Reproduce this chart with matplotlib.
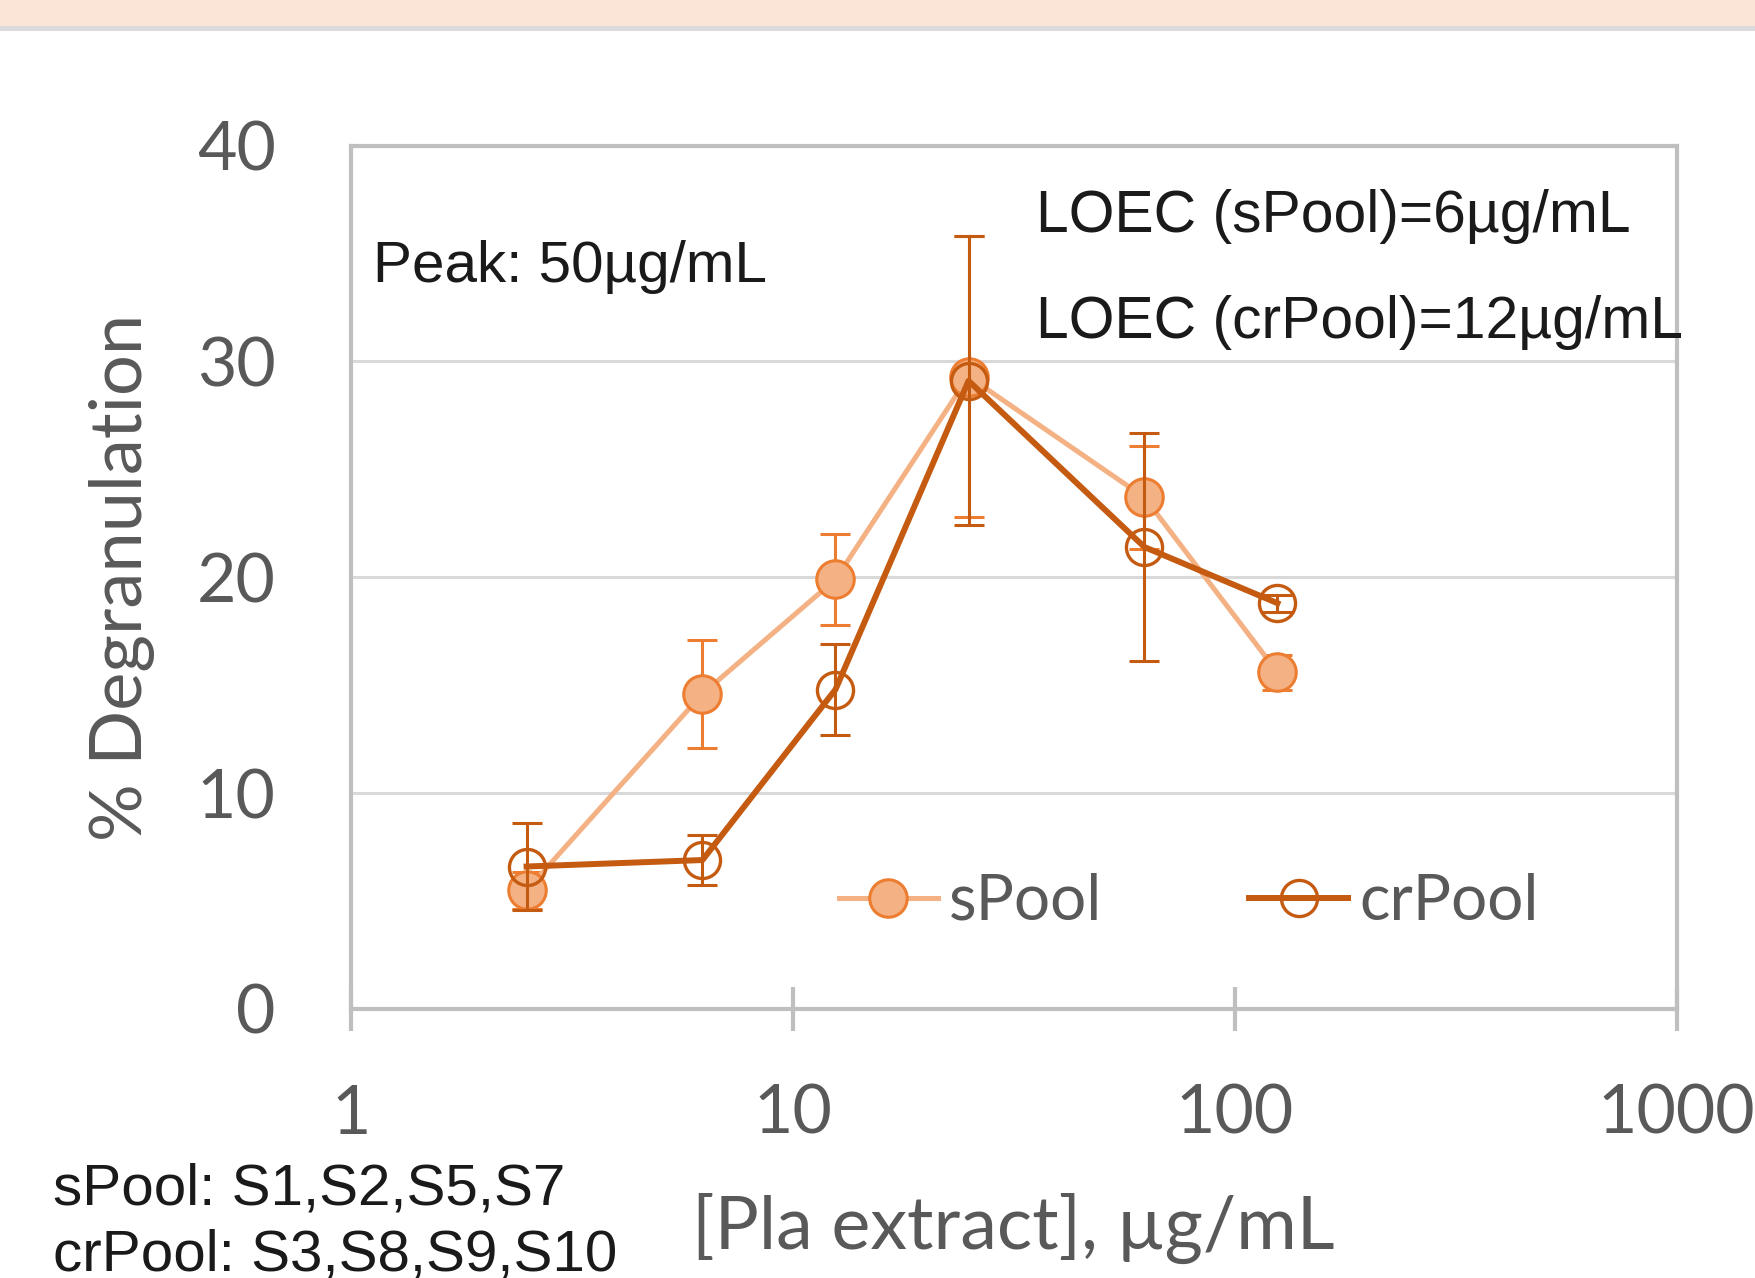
import numpy as np
import matplotlib.pyplot as plt
from matplotlib.lines import Line2D

conc = [2.5, 6.25, 12.5, 25, 62.5, 125]
spool = [5.5, 14.6, 19.9, 29.3, 23.7, 15.6]
spool_err = [0.85, 2.5, 2.1, 6.5, 2.4, 0.8]
crpool = [6.6, 6.9, 14.8, 29.1, 21.4, 18.8]
crpool_err = [2.0, 1.15, 2.1, 6.7, 5.3, 0.4]

light = "#F4B183"
mid = "#ED7D31"
dark = "#C55A11"
gray_txt = "#595959"

fig = plt.figure(figsize=(17.56, 12.78), dpi=100)

# peach band at the top
fig.patches.append(plt.Rectangle((0, 1 - 26 / 1278), 1, 26 / 1278, transform=fig.transFigure,
                                 facecolor="#FBE5D6", edgecolor="none", zorder=0))
fig.patches.append(plt.Rectangle((0, 1 - 31 / 1278), 1, 5 / 1278, transform=fig.transFigure,
                                 facecolor="#DADADA", edgecolor="none", zorder=0))

ax = fig.add_axes([0.1997, 0.2105, 0.7551, 0.6756])
ax.set_xscale("log")
ax.set_xlim(1, 1000)
ax.set_ylim(0, 40)
ax.set_yticks([0, 10, 20, 30, 40])
ax.yaxis.grid(True, color="#D9D9D9", linewidth=2.2)
ax.set_axisbelow(True)

for s in ax.spines.values():
    s.set_color("#BFBFBF")
    s.set_linewidth(3)

ax.tick_params(axis="y", length=0, pad=54, labelsize=49, labelcolor=gray_txt)
ax.tick_params(axis="x", which="major", direction="inout", length=32, width=3,
               color="#BFBFBF", pad=38, labelsize=49, labelcolor=gray_txt)
ax.tick_params(axis="x", which="minor", length=0)
ax.set_xticks([1, 10, 100, 1000])
ax.set_xticklabels(["1", "10", "100", "1000"])
for lab in ax.get_xticklabels() + ax.get_yticklabels():
    lab.set_family("Lato")

# sPool
ax.errorbar(conc, spool, yerr=spool_err, fmt="none", ecolor=mid, elinewidth=2.2,
            capsize=11, capthick=2.2, zorder=3)
ax.plot(conc, spool, color=light, linewidth=3.6, marker="o", markersize=27,
        markerfacecolor=light, markeredgecolor=mid, markeredgewidth=2.2, zorder=4)

# crPool
ax.errorbar(conc, crpool, yerr=crpool_err, fmt="none", ecolor=dark, elinewidth=2.2,
            capsize=11, capthick=2.2, zorder=5)
ax.plot(conc, crpool, color=dark, linewidth=4.3, marker="o", markersize=26,
        markerfacecolor="none", markeredgecolor=dark, markeredgewidth=2.4, zorder=6)

handles = [
    Line2D([], [], color=light, linewidth=3.6, marker="o", markersize=27,
           markerfacecolor=light, markeredgecolor=mid, markeredgewidth=2.2),
    Line2D([], [], color=dark, linewidth=4.3, marker="o", markersize=26,
           markerfacecolor="none", markeredgecolor=dark, markeredgewidth=2.4),
]
leg = ax.legend(handles, ["sPool", "crPool"], loc="center", bbox_to_anchor=(0.632, 0.124),
                ncol=2, frameon=False, handlelength=1.55, handletextpad=0.17,
                columnspacing=2.3, prop={"family": "Lato", "size": 46})
for t in leg.get_texts():
    t.set_color(gray_txt)

ax.set_ylabel("% Degranulation", fontsize=52, color=gray_txt, family="Lato", labelpad=30)
ax.set_xlabel("[Pla extract], µg/mL", fontsize=53, color=gray_txt, family="Lato", labelpad=34)

fig.text(373 / 1756, 1 - 267 / 1278, "Peak: 50µg/mL", fontsize=42, family="Liberation Sans",
         color="#1a1a1a", va="center")
fig.text(1036 / 1756, 1 - 216 / 1278, "LOEC (sPool)=6µg/mL", fontsize=42.3,
         family="Liberation Sans", color="#1a1a1a", va="center")
fig.text(1036 / 1756, 1 - 322 / 1278, "LOEC (crPool)=12µg/mL", fontsize=42.3,
         family="Liberation Sans", color="#1a1a1a", va="center")

fig.text(53 / 1756, 1 - 1190 / 1278, "sPool: S1,S2,S5,S7", fontsize=42,
         family="Liberation Sans", color="#1a1a1a", va="center")
fig.text(53 / 1756, 1 - 1255 / 1278, "crPool: S3,S8,S9,S10", fontsize=42,
         family="Liberation Sans", color="#1a1a1a", va="center")

fig.savefig("out.png", dpi=100)
